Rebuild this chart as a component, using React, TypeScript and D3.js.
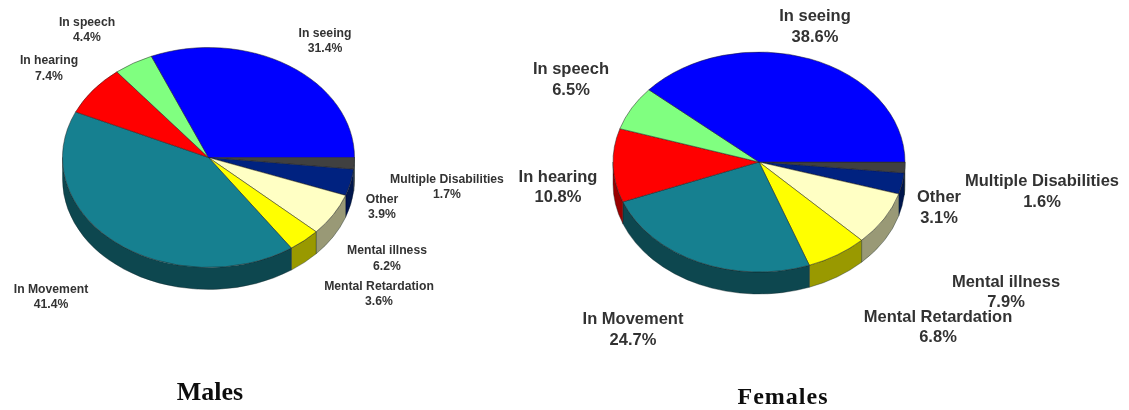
import React from "react";
import * as d3 from "d3";

const categories = ["Multiple Disabilities", "Other", "Mental illness", "Mental Retardation", "In Movement", "In hearing", "In speech", "In seeing"];
const maleValues = [1.7, 3.9, 6.2, 3.6, 41.4, 7.4, 4.4, 31.4];
const femaleValues = [1.6, 3.1, 7.9, 6.8, 24.7, 10.8, 6.5, 38.6];
const topColors = ["#404040", "#002080", "#ffffc4", "#ffff00", "#128090", "#ff0000", "#80ff80", "#0000ff"];

// label anchors [x, first baseline, second baseline] in category order
const maleLabelPos = [[447, 183, 198], [382, 203, 218], [387, 254, 270], [379, 290, 305], [51, 293, 308], [49, 64, 80], [87, 26, 41], [325, 37, 52]];
const femaleLabelPos = [[1042, 186, 207], [939, 202, 223], [1006, 287, 307], [938, 322, 342], [633, 324, 345], [558, 182, 202], [571, 74, 95], [815, 21, 42]];

const RX = 146;
const RY = 110;
const DEPTH = 22;

function Pie3D({ values, cx, cy, labels, fontSize }: { values: number[]; cx: number; cy: number; labels: number[][]; fontSize: number }) {
  const arcs = d3.pie<number>().sort(null).startAngle(Math.PI / 2).endAngle(Math.PI / 2 + 2 * Math.PI)(values);
  const x = d3.scaleLinear().domain([-1, 1]).range([cx - RX, cx + RX]);
  const y = d3.scaleLinear().domain([-1, 1]).range([cy - RY, cy + RY]);
  // angle measured clockwise from north, as d3 does
  const px = (a: number) => x(Math.sin(a));
  const py = (a: number) => y(-Math.cos(a));

  const wall = (a0: number, a1: number) => {
    const from = Math.max(a0, Math.PI / 2);
    const to = Math.min(a1, (3 * Math.PI) / 2);
    if (to <= from) return null;
    const large = to - from > Math.PI ? 1 : 0;
    return `M${px(from)},${py(from)}A${RX},${RY} 0 ${large} 1 ${px(to)},${py(to)}L${px(to)},${py(to) + DEPTH}A${RX},${RY} 0 ${large} 0 ${px(from)},${py(from) + DEPTH}Z`;
  };
  const top = (a0: number, a1: number) => {
    const large = a1 - a0 > Math.PI ? 1 : 0;
    return `M${cx},${cy}L${px(a0)},${py(a0)}A${RX},${RY} 0 ${large} 1 ${px(a1)},${py(a1)}Z`;
  };

  return (
    <g>
      {arcs.map((d, i) => {
        const p = wall(d.startAngle, d.endAngle);
        const c = d3.color(topColors[i])!;
        const dark = d3.rgb(c.rgb().r * 0.6, c.rgb().g * 0.6, c.rgb().b * 0.6).toString();
        return p ? <path key={i} d={p} fill={i === 4 ? "#0a4650" : dark} stroke="#1a2a2a" strokeWidth={0.4} /> : null;
      })}
      {arcs.map((d, i) => (
        <path key={i} d={top(d.startAngle, d.endAngle)} fill={topColors[i]} stroke="#222" strokeWidth={0.5} />
      ))}
      {categories.map((c, i) => (
        <text key={c} textAnchor="middle" fontSize={fontSize} fontWeight="bold" fontFamily="'Liberation Sans', Arial, sans-serif" fill="#333">
          <tspan x={labels[i][0]} y={labels[i][1]}>{c}</tspan>
          <tspan x={labels[i][0]} y={labels[i][2]}>{d3.format(".1f")(values[i])}%</tspan>
        </text>
      ))}
    </g>
  );
}

export default function App() {
  return (
    <svg width={1129} height={410} style={{ position: "absolute", left: 0, top: 0, background: "#fff" }}>
      <defs>
        <filter id="soft" x="-5%" y="-5%" width="110%" height="110%">
          <feGaussianBlur stdDeviation={0.6} />
        </filter>
      </defs>
      <g filter="url(#soft)">
        <Pie3D values={maleValues} cx={208.5} cy={157.5} labels={maleLabelPos} fontSize={12.2} />
        <Pie3D values={femaleValues} cx={759} cy={162} labels={femaleLabelPos} fontSize={16.5} />
        <text x={210} y={400} textAnchor="middle" fontSize={26} fontWeight="bold" fontFamily="'Liberation Serif', serif" fill="#111">Males</text>
        <text x={783} y={404} textAnchor="middle" fontSize={24} fontWeight="bold" letterSpacing={1} fontFamily="'Liberation Serif', serif" fill="#111">Females</text>
      </g>
    </svg>
  );
}
